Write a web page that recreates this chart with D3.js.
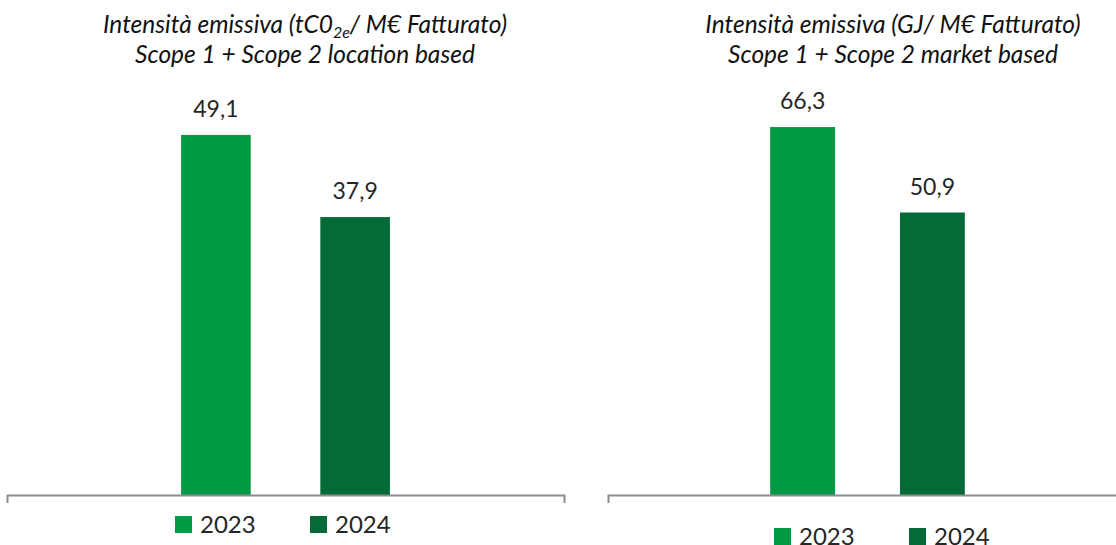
<!DOCTYPE html>
<html>
<head>
<meta charset="utf-8">
<script src="https://cdn.jsdelivr.net/npm/d3@7"></script>
<style>
  body { margin: 0; background: #fff; }
  text { font-family: Lato, "Open Sans", sans-serif; fill: #262626; }
  text.title { font-style: italic; fill: #111; }
</style>
</head>
<body>
<div id="chart"></div>
<script>
// data
const years = ["2023", "2024"];
const locationBased = [49.1, 37.9];   // tCO2e / M€ fatturato
const marketBased = [66.3, 50.9];     // GJ / M€ fatturato
const yearColors = ["#009a44", "#046a38"];

const width = 1116;
const height = 545;
const baseY = 495;

const svg = d3.select("#chart")
    .append("svg")
    .attr("width", width)
    .attr("height", height);

// one panel per chart
const panels = [
    {
        values: locationBased, xRange: [7, 564], yMax: 60, yTop: 55,
        titleX: 305, legendX: 175, legendY: 533,
        title1: ["Intensità emissiva (tC0", "2e", "/ M€ Fatturato)"],
        title2: "Scope 1 + Scope 2 location based"
    },
    {
        values: marketBased, xRange: [608, 1127], yMax: 80, yTop: 51,
        titleX: 893, legendX: 774, legendY: 545,
        title1: ["Intensità emissiva (GJ/ M€ Fatturato)"],
        title2: "Scope 1 + Scope 2 market based"
    }
];

const fmt = v => d3.format(".1f")(v).replace(".", ",");

panels.forEach(p => {
    const g = svg.append("g");

    const x = d3.scaleBand()
        .domain(years)
        .range(p.xRange)
        .paddingInner(0.5)
        .paddingOuter(1.25);

    const y = d3.scaleLinear()
        .domain([0, p.yMax])
        .range([baseY, p.yTop]);

    // bars
    g.selectAll("rect.bar")
        .data(years)
        .enter().append("rect")
        .attr("class", "bar")
        .attr("x", d => x(d))
        .attr("width", x.bandwidth())
        .attr("y", (d, i) => y(p.values[i]))
        .attr("height", (d, i) => baseY - y(p.values[i]))
        .attr("fill", (d, i) => yearColors[i]);

    // value labels
    g.selectAll("text.value")
        .data(years)
        .enter().append("text")
        .attr("class", "value")
        .attr("x", d => x(d) + x.bandwidth() / 2)
        .attr("y", (d, i) => y(p.values[i]) - 18)
        .attr("text-anchor", "middle")
        .style("font-size", "23px")
        .text((d, i) => fmt(p.values[i]));

    // category axis line with outer ticks
    const axis = g.append("g")
        .attr("transform", `translate(0,${baseY})`)
        .call(d3.axisBottom(x).tickValues([]).tickSizeOuter(8));
    axis.select(".domain")
        .attr("stroke", "#8c8c8c")
        .attr("stroke-width", 2);

    // title
    const t1 = g.append("text")
        .attr("class", "title")
        .attr("x", p.titleX)
        .attr("y", 33)
        .attr("text-anchor", "middle")
        .style("font-size", "24.5px");
    t1.append("tspan").text(p.title1[0]);
    if (p.title1.length > 1) {
        t1.append("tspan").attr("dy", 5).style("font-size", "16px").text(p.title1[1]);
        t1.append("tspan").attr("dy", -5).text(p.title1[2]);
    }
    g.append("text")
        .attr("class", "title")
        .attr("x", p.titleX)
        .attr("y", 63)
        .attr("text-anchor", "middle")
        .style("font-size", "24.5px")
        .text(p.title2);

    // legend
    const items = g.selectAll("g.legend")
        .data(years)
        .enter().append("g")
        .attr("class", "legend")
        .attr("transform", (d, i) => `translate(${p.legendX + i * 135},${p.legendY})`);
    items.append("rect")
        .attr("y", -17)
        .attr("width", 17)
        .attr("height", 17)
        .attr("fill", (d, i) => yearColors[i]);
    items.append("text")
        .attr("x", 25)
        .style("font-size", "24px")
        .text(d => d);
});
</script>
</body>
</html>
